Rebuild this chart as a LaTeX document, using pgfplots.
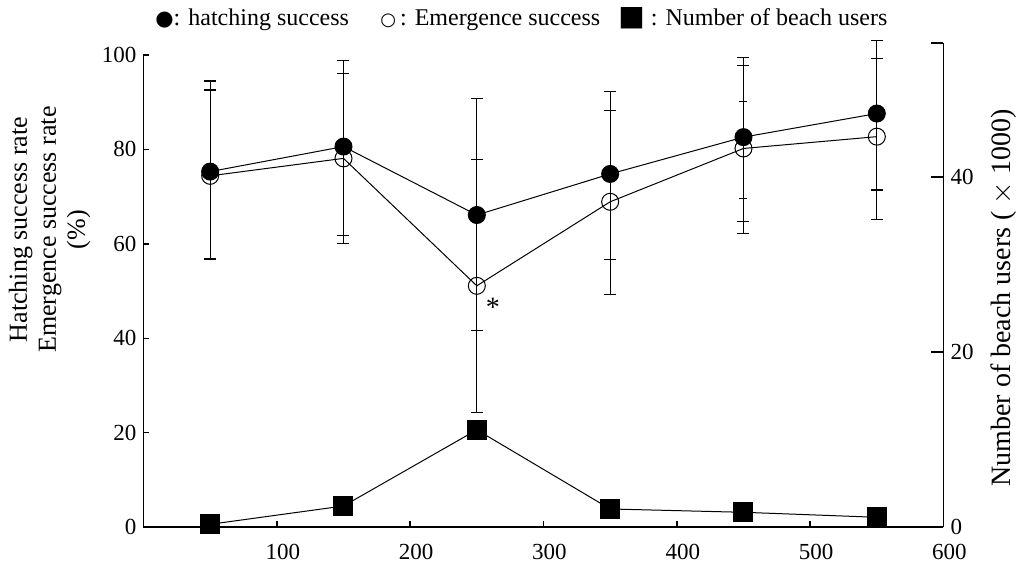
\documentclass[border=0pt]{standalone}
\usepackage{fontspec}
\setmainfont{Liberation Serif}
\newfontfamily\symfont{DejaVu Sans}
\usepackage{pgfplots}
\pgfplotsset{compat=1.18}

\pgfplotsset{
  twin/.style={
    scale only axis, width=400pt,
    xmin=0, xmax=600,
    clip=false,
    tick align=inside,
    axis line style={line width=0.8pt},
    tick style={line width=0.7pt, black},
    ticklabel style={font=\fontsize{11.5}{12}\selectfont},
    /pgf/number format/assume math mode=true,
  },
  sd/.style={
    error bars/.cd, y dir=both, y explicit,
    error bar style={line width=0.5pt},
    error mark options={rotate=90, line width=0.6pt, mark size=3pt},
  },
}

\begin{document}
\begin{tikzpicture}
\useasboundingbox (-71.75pt,-18pt) rectangle (436.75pt,263.5pt);

% left axis: success rates (%)
\begin{axis}[twin,
  height=236pt,
  ymin=0, ymax=100,
  axis x line*=bottom, axis y line*=left,
  xtick={100,200,...,600}, ytick={0,20,...,100},
  major tick length=3pt,
  xticklabel style={yshift=-5pt, xshift=3pt},
  ylabel={Hatching success rate\\Emergence success rate\\(\%)},
  ylabel style={at={(axis description cs:-0.1175,0.63)}, anchor=center,
    align=center, font=\fontsize{13}{14.5}\selectfont},
]
% emergence success
\addplot[black, line width=0.5pt, mark=o, mark size=4.25pt, sd] coordinates {
  (50,74.4)  += (0,18.2) -= (0,17.6)
  (150,78.1) += (0,18.0) -= (0,18.0)
  (250,51.1) += (0,26.7) -= (0,26.8)
  (350,68.9) += (0,19.4) -= (0,19.7)
  (450,80.2) += (0,19.3) -= (0,18.1)
  (550,82.7) += (0,16.6) -= (0,17.5)
};
% hatching success
\addplot[black, line width=0.5pt, mark=*, mark size=4.25pt, sd] coordinates {
  (50,75.3)  += (0,19.2) -= (0,18.5)
  (150,80.6) += (0,18.3) -= (0,18.9)
  (250,66.1) += (0,24.7) -= (0,24.4)
  (350,74.8) += (0,17.4) -= (0,18.2)
  (450,82.6) += (0,15.1) -= (0,17.8)
  (550,87.6) += (0,15.4) -= (0,16.2)
};
% short extra marks on the 450 bar
\addplot[black, mark=none, error bars/.cd, y dir=both, y explicit,
  error bar style={line width=0.5pt},
  error mark options={rotate=90, line width=0.6pt, mark size=2pt}] coordinates {
  (450,79.9) += (0,10.2) -= (0,10.3)
};
\node[font=\fontsize{14}{14}\selectfont] at (axis cs:262,46.5) {*};
\end{axis}

% right axis: beach users
\begin{axis}[twin,
  height=242pt,
  ymin=0, ymax=55.3,
  axis x line=none, axis y line*=right,
  ytick={0,20,40},
  extra y ticks={55.3}, extra y tick labels={},
  major tick length=6pt,
  ylabel={Number of beach users ( $\times$ 1000)},
  ylabel style={at={(axis description cs:1.075,0.473)}, anchor=center,
    font=\fontsize{14}{15}\selectfont},
]
\addplot[black, line width=0.5pt, mark=square*, mark size=4.75pt] coordinates {
  (50,0.31) (150,2.4) (250,11.1) (350,2.06) (450,1.68) (550,1.11)
};
\end{axis}

% key along the top
\begin{scope}[every node/.style={anchor=base west, inner sep=0pt,
    font=\fontsize{12}{13}\selectfont}]
\node at (5.75pt,250.5pt) {{\symfont\fontsize{10.5}{10.5}\selectfont ●}: hatching success};
\node at (118.25pt,250.5pt) {{\symfont\fontsize{9}{9}\selectfont ○}\,: Emergence success};
\node at (237.25pt,250.5pt) {{\symfont\fontsize{14}{14}\selectfont ■} : Number of beach users};
\end{scope}
\end{tikzpicture}
\end{document}
